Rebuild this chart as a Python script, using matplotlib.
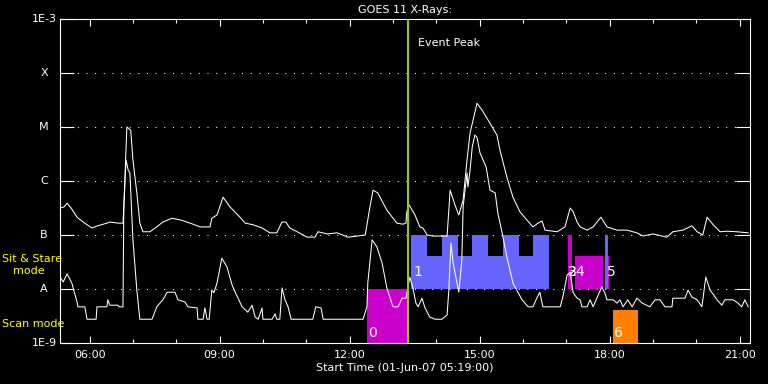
import numpy as np
import matplotlib
matplotlib.use('Agg')
import matplotlib.pyplot as plt

# GOES 11 long channel (1-8 A): hours of 01-Jun-07, log10 flux
long_t = [5.32, 5.41, 5.48, 5.59, 5.71, 5.85, 6.05, 6.19, 6.40, 6.47, 6.65, 6.77, 6.79, 6.86,
          6.95, 7.00, 7.09, 7.16, 7.23, 7.39, 7.55, 7.69, 7.90, 8.09, 8.32, 8.55, 8.78, 8.82,
          8.94, 9.08, 9.24, 9.47, 9.59, 9.77, 9.98, 10.16, 10.32, 10.44, 10.53, 10.62, 10.79,
          11.02, 11.20, 11.27, 11.48, 11.71, 11.96, 12.17, 12.36, 12.47, 12.54, 12.65, 12.86,
          13.09, 13.23, 13.30, 13.32, 13.37, 13.51, 13.62, 13.69, 13.79, 13.92, 14.25, 14.32,
          14.43, 14.52, 14.62, 14.71, 14.78, 14.85, 14.94, 15.06, 15.24, 15.40, 15.47, 15.63,
          15.77, 15.93, 16.09, 16.23, 16.35, 16.44, 16.51, 16.79, 16.97, 17.09, 17.16, 17.25,
          17.32, 17.48, 17.62, 17.80, 17.94, 18.17, 18.40, 18.63, 18.77, 19.00, 19.32, 19.46,
          19.69, 19.90, 20.02, 20.15, 20.25, 20.39, 20.55, 20.71, 20.94, 21.20]
long_lf = [-6.50, -6.48, -6.41, -6.52, -6.67, -6.76, -6.87, -6.83, -6.78, -6.76, -6.78, -6.78,
           -6.48, -5.00, -5.06, -5.61, -6.22, -6.78, -6.94, -6.94, -6.85, -6.76, -6.69, -6.72,
           -6.78, -6.85, -6.85, -6.69, -6.63, -6.30, -6.48, -6.67, -6.78, -6.81, -6.87, -6.96,
           -6.96, -6.76, -6.76, -6.87, -6.94, -7.04, -7.04, -6.94, -6.98, -6.96, -7.04, -7.02,
           -7.00, -6.48, -6.17, -6.22, -6.54, -6.78, -6.80, -6.78, -6.57, -6.44, -6.63, -6.85,
           -6.87, -7.00, -7.02, -7.02, -6.17, -6.44, -6.63, -6.35, -5.61, -5.11, -4.87, -4.56,
           -4.69, -4.93, -5.15, -5.43, -5.93, -6.30, -6.57, -6.72, -6.85, -6.78, -6.74, -6.91,
           -6.94, -6.85, -6.50, -6.57, -6.76, -6.85, -6.91, -6.85, -6.67, -6.85, -6.91, -6.91,
           -6.96, -7.02, -6.98, -7.04, -6.94, -6.91, -6.83, -6.94, -7.00, -6.67, -6.81, -6.94,
           -6.93, -6.94, -6.96]

# short channel (0.5-4 A)
short_t = [5.32, 5.39, 5.48, 5.59, 5.71, 5.73, 5.89, 5.94, 6.15, 6.17, 6.40, 6.42, 6.47, 6.65,
           6.68, 6.77, 6.79, 6.84, 6.89, 6.93, 7.00, 7.09, 7.16, 7.44, 7.55, 7.69, 7.79, 7.97,
           8.04, 8.20, 8.27, 8.48, 8.50, 8.62, 8.66, 8.71, 8.76, 8.82, 8.87, 8.94, 9.05, 9.17,
           9.29, 9.36, 9.52, 9.65, 9.75, 9.82, 9.89, 9.98, 10.00, 10.21, 10.28, 10.32, 10.39,
           10.44, 10.51, 10.58, 10.65, 11.15, 11.22, 11.34, 11.39, 12.31, 12.40, 12.42, 12.52,
           12.63, 12.75, 12.86, 13.00, 13.12, 13.21, 13.30, 13.39, 13.46, 13.53, 13.58, 13.67,
           13.74, 13.85, 13.97, 14.13, 14.25, 14.29, 14.34, 14.39, 14.48, 14.52, 14.59, 14.62,
           14.71, 14.73, 14.78, 14.83, 14.89, 14.94, 15.01, 15.15, 15.24, 15.36, 15.42, 15.52,
           15.63, 15.77, 15.89, 15.98, 16.12, 16.23, 16.32, 16.39, 16.46, 16.86, 16.92, 17.02,
           17.09, 17.16, 17.25, 17.32, 17.36, 17.48, 17.55, 17.62, 17.82, 17.89, 17.94, 18.08,
           18.17, 18.24, 18.31, 18.42, 18.52, 18.63, 18.75, 18.93, 19.05, 19.16, 19.28, 19.44,
           19.46, 19.74, 19.81, 19.90, 20.02, 20.13, 20.22, 20.32, 20.48, 20.59, 20.66, 20.85,
           20.96, 21.05, 21.12, 21.20]
short_lf = [-7.78, -7.87, -7.72, -7.89, -8.24, -8.33, -8.33, -8.56, -8.56, -8.33, -8.33, -8.20,
            -8.30, -8.30, -8.33, -8.33, -6.48, -5.61, -5.80, -5.85, -7.09, -8.02, -8.56, -8.56,
            -8.33, -8.20, -8.06, -8.06, -8.20, -8.24, -8.33, -8.35, -8.56, -8.56, -8.35, -8.56,
            -8.56, -8.02, -8.07, -7.89, -7.43, -7.59, -7.93, -8.06, -8.33, -8.43, -8.30, -8.52,
            -8.56, -8.35, -8.56, -8.56, -8.46, -8.56, -8.56, -7.98, -8.20, -8.33, -8.56, -8.56,
            -8.33, -8.35, -8.56, -8.56, -8.33, -7.89, -7.09, -7.22, -7.52, -7.98, -8.33, -8.33,
            -8.17, -8.17, -7.78, -7.98, -8.26, -8.33, -8.17, -8.35, -8.52, -8.56, -8.56, -8.48,
            -8.02, -7.15, -7.52, -7.89, -8.06, -7.46, -6.48, -5.85, -6.11, -5.80, -5.37, -5.15,
            -5.19, -5.48, -5.74, -6.17, -6.22, -6.59, -6.96, -7.41, -7.89, -8.07, -8.20, -8.33,
            -8.33, -8.17, -8.06, -8.33, -8.33, -8.15, -7.74, -7.69, -8.07, -8.17, -8.20, -8.33,
            -8.33, -8.20, -8.33, -7.96, -8.07, -8.20, -8.20, -8.26, -8.20, -8.33, -8.20, -8.33,
            -8.17, -8.26, -8.33, -8.20, -8.20, -8.33, -8.33, -8.17, -8.17, -8.02, -8.15, -8.20,
            -8.33, -7.78, -8.02, -8.20, -8.30, -8.20, -8.20, -8.26, -8.33, -8.20, -8.33]

# observation blocks: start, end (hours), bottom, top (log10 flux), colour
obs_start = [12.40, 13.42, 13.42, 14.13, 14.83, 15.54, 16.23, 17.04, 17.20, 17.89, 17.96, 18.08]
obs_end = [13.32, 16.60, 13.79, 14.50, 15.20, 15.91, 16.60, 17.13, 17.85, 17.96, 17.99, 18.65]
obs_bot = [-9, -8, -8, -8, -8, -8, -8, -8, -8, -8, -8, -9]
obs_top = [-8, -7.39, -7, -7, -7, -7, -7, -7, -7.39, -7, -7.39, -8.39]
obs_col = ['#cc00cc', '#6666ff', '#6666ff', '#6666ff', '#6666ff', '#6666ff', '#6666ff',
           '#cc00cc', '#cc00cc', '#6666ff', '#cc00cc', '#ff8000']

lab_text = ['0', '1', '2', '3', '4', '5', '6']
lab_t = [12.43, 13.48, 17.03, 17.05, 17.21, 17.93, 18.10]
lab_lf = [-8.81, -7.69, -7.69, -7.69, -7.69, -7.69, -8.81]

event_peak = 13.35
class_lf = [-3, -4, -5, -6, -7, -8, -9]
class_lab = ['1E-3', 'X', 'M', 'C', 'B', 'A', '1E-9']
xt_major = [6, 9, 12, 15, 18, 21]
xt_labels = ['06:00', '09:00', '12:00', '15:00', '18:00', '21:00']
t0, t1 = 5.317, 21.24

fig = plt.figure(figsize=(7.68, 3.84), dpi=100, facecolor='black')
ax = fig.add_axes([60 / 768, 41 / 384, 690 / 768, 324 / 384], facecolor='black')
ax.set_yscale('log')
ax.set_xlim(t0, t1)
ax.set_ylim(1e-9, 1e-3)

# dotted class levels
for lf in class_lf[1:-1]:
    ax.axhline(10 ** lf, color='white', lw=0.75, ls=(0, (1, 7.3)), zorder=1)

# observation boxes
for s, e, b, t, c in zip(obs_start, obs_end, obs_bot, obs_top, obs_col):
    ax.bar(s, 10 ** t - 10 ** b, bottom=10 ** b, width=e - s, align='edge',
           color=c, linewidth=0, zorder=2)

ax.plot(long_t, 10 ** np.array(long_lf), color='white', lw=0.75, zorder=3)
ax.plot(short_t, 10 ** np.array(short_lf), color='white', lw=0.75, zorder=3)

ax.axvline(event_peak, color='#99cc00', lw=1.5, zorder=4)
ax.text(event_peak + 0.22, 10 ** -3.45, 'Event Peak', color='white', fontsize=8,
        ha='left', va='center', zorder=5)

for tx, t, lf in zip(lab_text, lab_t, lab_lf):
    ax.text(t, 10 ** lf, tx, color='white', fontsize=10,
            ha='left', va='center', zorder=6)

# axes, ticks
for sp in ax.spines.values():
    sp.set_color('white')
    sp.set_linewidth(0.8)
ax.set_xticks(xt_major)
ax.set_xticklabels(xt_labels)
ax.set_xticks(np.arange(6, 22), minor=True)
ax.tick_params(axis='x', which='major', direction='in', length=5, width=0.8, color='white',
               top=True, labelcolor='white', labelsize=8, pad=5)
ax.tick_params(axis='x', which='minor', direction='in', length=3, width=0.8, color='white', top=True)
ax.set_yticks([10.0 ** lf for lf in class_lf])
ax.set_yticklabels([])
ax.yaxis.set_minor_locator(matplotlib.ticker.NullLocator())
ax.tick_params(axis='y', which='major', direction='in', length=10, width=0.8, color='white',
               right=True)

ytr = ax.get_yaxis_transform()
for lf, lab in zip(class_lf, class_lab):
    ax.text(-0.0232, 10.0 ** lf, lab, transform=ytr, color='white', fontsize=8,
            ha='center', va='center', clip_on=False)

ax.text(-0.084, 10 ** -7.44, 'Sit & Stare', transform=ytr, color='yellow', fontsize=8,
        ha='left', va='center', clip_on=False, zorder=10)
ax.text(-0.068, 10 ** -7.667, 'mode', transform=ytr, color='yellow', fontsize=8,
        ha='left', va='center', clip_on=False, zorder=10)
ax.text(-0.084, 10 ** -8.648, 'Scan mode', transform=ytr, color='yellow', fontsize=8,
        ha='left', va='center', clip_on=False, zorder=10)

ax.set_title('GOES 11 X-Rays:', color='white', fontsize=8, pad=4)
ax.set_xlabel('Start Time (01-Jun-07 05:19:00)', color='white', fontsize=8, labelpad=2)

fig.savefig('out.png', dpi=100, facecolor='black')
